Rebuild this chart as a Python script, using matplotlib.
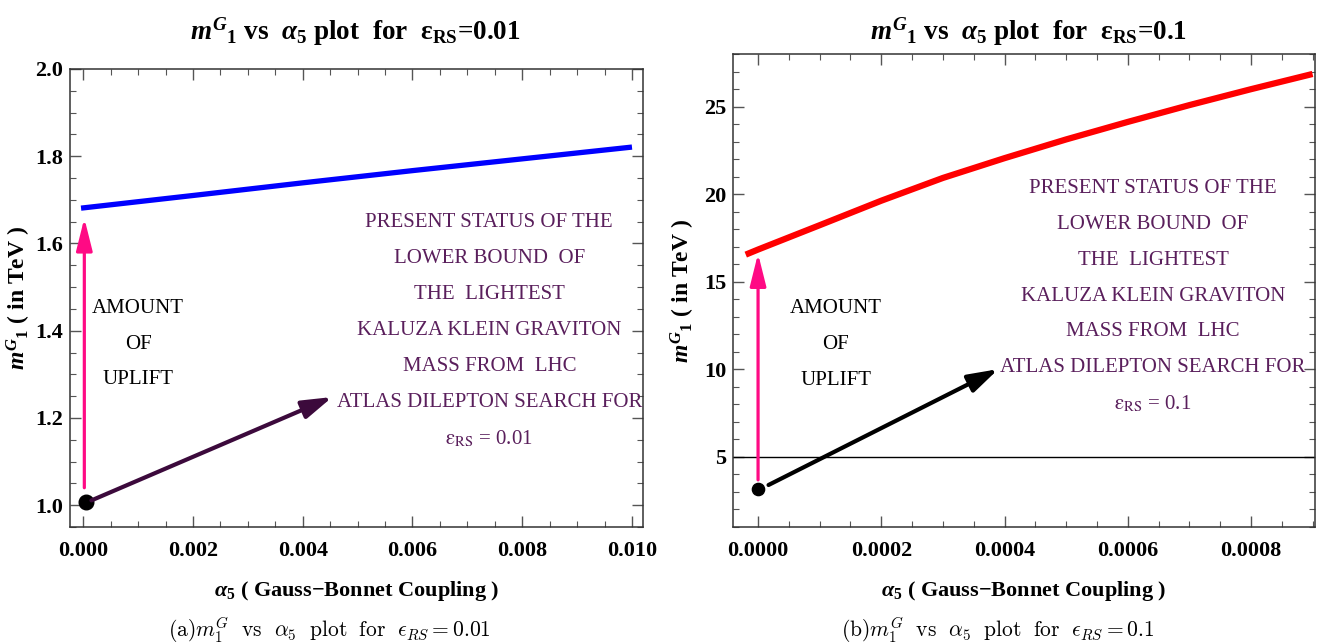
import numpy as np
import matplotlib.pyplot as plt
from matplotlib.ticker import MultipleLocator, FormatStrFormatter

plt.rcParams['font.family'] = ['Liberation Serif', 'DejaVu Serif']
plt.rcParams['mathtext.fontset'] = 'custom'
plt.rcParams['mathtext.rm'] = 'Liberation Serif:bold'
plt.rcParams['mathtext.it'] = 'Liberation Serif:italic:bold'
plt.rcParams['mathtext.bf'] = 'Liberation Serif:bold'

# panel (a): eps_RS = 0.01
alpha_a = [-0.00004, 0.002, 0.004, 0.006, 0.008, 0.010]
mass_a = [1.681, 1.710, 1.739, 1.767, 1.794, 1.821]
rs_point_a = (0.00005, 1.007)

# panel (b): eps_RS = 0.1
alpha_b = [-0.00002, 0.0, 0.0001, 0.0002, 0.0003, 0.0004, 0.0005,
           0.0006, 0.0007, 0.0008, 0.0009]
mass_b = [16.54, 16.83, 18.22, 19.62, 20.92, 22.05, 23.12,
          24.12, 25.08, 25.99, 26.86]
rs_point_b = (0.0, 3.14)
lhc_bound_b = 5.0

note_lines = ["PRESENT STATUS OF THE", "LOWER BOUND  OF", "THE  LIGHTEST",
              "KALUZA KLEIN GRAVITON", "MASS FROM  LHC",
              "ATLAS DILEPTON SEARCH FOR"]
uplift_lines = ["AMOUNT", "OF", "UPLIFT"]

PURPLE_TXT = '#5a1f5c'
PINK = '#ff0a84'
EPS = r"\mathrm{\varepsilon}"

fig = plt.figure(figsize=(13.17, 6.43), dpi=100)
ax1 = fig.add_axes([0.0532, 0.1804, 0.4350, 0.7123])
ax2 = fig.add_axes([0.5566, 0.1804, 0.4419, 0.7356])


def style(ax, xmaj, xmin, ymaj, ymin, xfmt, yfmt):
    ax.xaxis.set_major_locator(MultipleLocator(xmaj))
    ax.xaxis.set_minor_locator(MultipleLocator(xmin))
    ax.yaxis.set_major_locator(MultipleLocator(ymaj))
    ax.yaxis.set_minor_locator(MultipleLocator(ymin))
    ax.xaxis.set_major_formatter(FormatStrFormatter(xfmt))
    ax.yaxis.set_major_formatter(FormatStrFormatter(yfmt))
    ax.tick_params(which='both', direction='in', top=True, right=True,
                   color='#555555')
    ax.tick_params(which='major', length=8, width=1)
    ax.tick_params(which='minor', length=4, width=0.8)
    ax.tick_params(axis='x', pad=10, labelsize=16)
    ax.tick_params(axis='y', pad=5, labelsize=16)
    for lab in ax.get_xticklabels() + ax.get_yticklabels():
        lab.set_fontweight('bold')
    for sp in ax.spines.values():
        sp.set_color('#333333')
        sp.set_linewidth(1.1)
    ax.set_xlabel(r"$\alpha_{5}$ ( Gauss$-$Bonnet Coupling )",
                  fontsize=16, fontweight='bold', va='center')
    ax.set_ylabel(r"$m^{G}{}_{1}$ ( in TeV )", fontsize=17, fontweight='bold')


def block(ax, lines, x, y, color, size=15):
    for i, s in enumerate(lines):
        ax.annotate(s, xy=(x, y), xytext=(0, -i * 25.9), textcoords='offset points',
                    ha='center', va='center', color=color, fontsize=size,
                    annotation_clip=False)


# ---- panel (a)
ax1.plot(alpha_a, mass_a, color='#0000ff', lw=3.8, solid_capstyle='butt')
ax1.plot(*rs_point_a, 'o', color='black', ms=10.5)
ax1.annotate('', xy=(0.00002, 1.658), xytext=(0.00002, 1.04),
             arrowprops=dict(arrowstyle='-|>,head_length=1.4,head_width=0.35',
                             mutation_scale=14, lw=2.3, color=PINK,
                             shrinkA=0, shrinkB=0))
ax1.annotate('', xy=(0.00454, 1.248), xytext=(0.00015, 1.011),
             arrowprops=dict(arrowstyle='-|>,head_length=1.3,head_width=0.4',
                             mutation_scale=14, lw=3, color='#3c0a3c',
                             shrinkA=0, shrinkB=0))
block(ax1, note_lines, 0.0074, 1.647, PURPLE_TXT)
ax1.annotate(rf"${EPS}_{{\mathrm{{RS}}}}$ = 0.01", xy=(0.0074, 1.647),
             xytext=(0, -6 * 25.9), textcoords='offset points', ha='center',
             va='center', color=PURPLE_TXT, fontsize=15, math_fontfamily='stix')
block(ax1, uplift_lines, 0.001, 1.452, 'black')
ax1.set_xlim(-0.00024, 0.0102)
ax1.set_ylim(0.95, 2.0)
style(ax1, 0.002, 0.0005, 0.2, 0.05, '%.3f', '%.1f')
ax1.xaxis.set_label_coords(0.5, -0.14)
ax1.yaxis.set_label_coords(-0.064, 0.5)

# ---- panel (b)
ax2.plot(alpha_b, mass_b, color='#ff0000', lw=4.5, solid_capstyle='butt')
ax2.axhline(lhc_bound_b, color='black', lw=1)
ax2.plot(*rs_point_b, 'o', color='black', ms=8.8)
ax2.annotate('', xy=(0.0, 16.6), xytext=(0.0, 3.67),
             arrowprops=dict(arrowstyle='-|>,head_length=1.4,head_width=0.35',
                             mutation_scale=14, lw=2.3, color=PINK,
                             shrinkA=0, shrinkB=0))
ax2.annotate('', xy=(0.00039, 10.0), xytext=(0.000017, 3.38),
             arrowprops=dict(arrowstyle='-|>,head_length=1.3,head_width=0.4',
                             mutation_scale=14, lw=3, color='black',
                             shrinkA=0, shrinkB=0))
block(ax2, note_lines, 0.000641, 20.34, PURPLE_TXT)
ax2.annotate(rf"${EPS}_{{\mathrm{{RS}}}}$ = 0.1", xy=(0.000641, 20.34),
             xytext=(0, -6 * 25.9), textcoords='offset points', ha='center',
             va='center', color=PURPLE_TXT, fontsize=15, math_fontfamily='stix')
block(ax2, uplift_lines, 0.000126, 13.48, 'black')
ax2.set_xlim(-0.0000406, 0.000904)
ax2.set_ylim(0.98, 28.0)
style(ax2, 0.0002, 0.00005, 5, 1, '%.4f', '%d')
ax2.xaxis.set_label_coords(0.5, -0.135)
ax2.yaxis.set_label_coords(-0.062, 0.5)

# titles and captions
fig.text(355 / 1317, 1 - 32 / 643,
         rf"$m^{{G}}{{}}_{{1}}$ vs  $\alpha_{{5}}$ plot  for  ${EPS}_{{\mathrm{{RS}}}}$=0.01",
         ha='center', va='center', fontsize=19.5, fontweight='bold')
fig.text(1028 / 1317, 1 - 32 / 643,
         rf"$m^{{G}}{{}}_{{1}}$ vs  $\alpha_{{5}}$ plot  for  ${EPS}_{{\mathrm{{RS}}}}$=0.1",
         ha='center', va='center', fontsize=19.5, fontweight='bold')
fig.text(329 / 1317, 1 - 630 / 643,
         r"$\mathrm{(a)}m_1^G\ \ \mathrm{vs}\ \ \alpha_5\ \ \mathrm{plot\ \ for}\ \ \epsilon_{RS}=0.01$",
         ha='center', va='center', fontsize=15.5, math_fontfamily='cm')
fig.text(998 / 1317, 1 - 630 / 643,
         r"$\mathrm{(b)}m_1^G\ \ \mathrm{vs}\ \ \alpha_5\ \ \mathrm{plot\ \ for}\ \ \epsilon_{RS}=0.1$",
         ha='center', va='center', fontsize=15.5, math_fontfamily='cm')

fig.savefig('out.png', dpi=100)
